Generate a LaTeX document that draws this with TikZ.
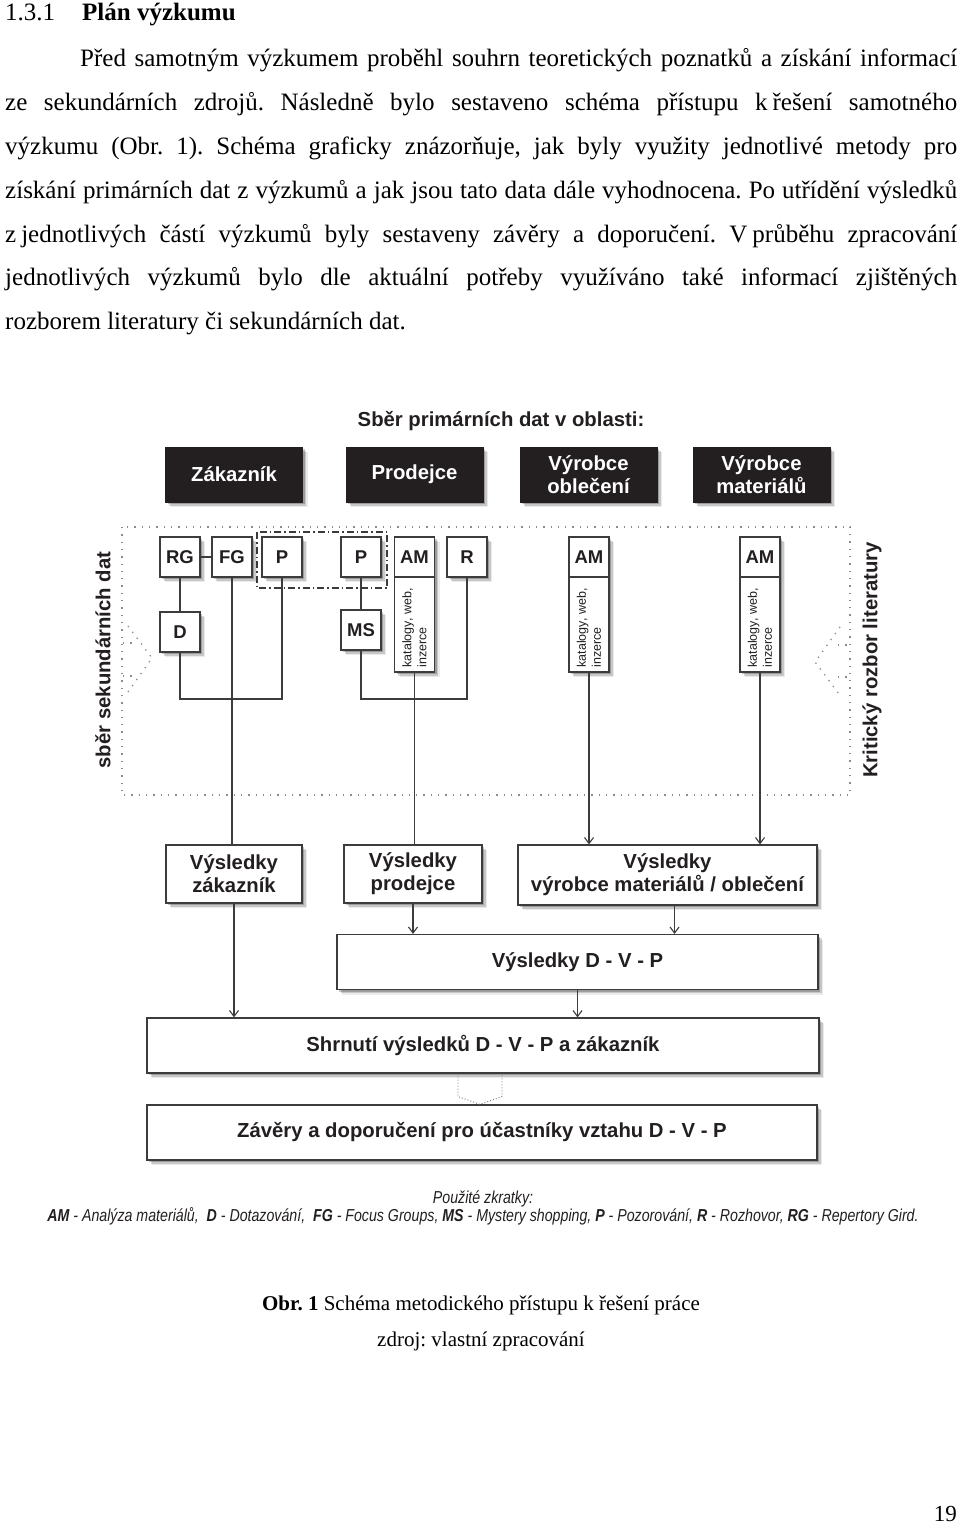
\documentclass[tikz,border=0pt]{standalone}
\usepackage{fontspec}
\setmainfont{Liberation Serif}
\newfontfamily\dsf{Liberation Sans}
\newfontfamily\nsf[FakeStretch=0.82]{Liberation Sans}
\usetikzlibrary{shadows,arrows.meta,calc}
\definecolor{ink}{HTML}{231F20}
\definecolor{edge}{HTML}{3C3C3C}
\tikzset{
  softshadow/.style={
    drop shadow={shadow xshift=5pt,shadow yshift=-5pt,opacity=0.08,fill=black},
    drop shadow={shadow xshift=3.5pt,shadow yshift=-3.5pt,opacity=0.15,fill=black},
    drop shadow={shadow xshift=2pt,shadow yshift=-2pt,opacity=0.22,fill=black}},
  darkbox/.style={softshadow, fill=ink, draw=ink, text=white, minimum width=137pt,
    minimum height=55pt, inner sep=0pt, align=center,
    font=\dsf\bfseries\fontsize{20.3}{23}\selectfont},
  resbox/.style={softshadow, fill=white, draw=edge, line width=1.2pt, inner sep=0pt,
    align=center, text=ink, font=\dsf\bfseries\fontsize{20.3}{23}\selectfont},
  sbase/.style={fill=white, draw=edge, line width=1.2pt, inner sep=0pt,
    minimum width=40pt, minimum height=40pt, text=ink,
    font=\dsf\bfseries\fontsize{18.5}{21}\selectfont},
  smallbox/.style={sbase, softshadow},
  vtext/.style={rotate=90, anchor=west, align=left, inner sep=0pt, text=ink,
    font=\dsf\fontsize{12.5}{15}\selectfont},
  sidelab/.style={rotate=90, inner sep=0pt, text=ink,
    font=\dsf\bfseries\fontsize{20.3}{23}\selectfont},
  ln/.style={draw=edge, line width=1.1pt},
  arr/.style={ln, -{Straight Barb[length=6pt,width=9pt]}},
  dotln/.style={draw=black!45, line width=1.3pt, dash pattern=on 1.3pt off 6pt},
  fineline/.style={draw=black!55, line width=0.9pt, dash pattern=on 1pt off 2pt},
  dashdot/.style={draw=edge, line width=1.1pt, dash pattern=on 7pt off 3pt on 1.5pt off 3pt},
  body/.style={font=\fontsize{25}{30}\selectfont, inner sep=0pt, anchor=base west},
  legend/.style={inner sep=0pt, text=ink, font=\nsf\itshape\fontsize{17.3}{19}\selectfont},
}
\begin{document}
\frenchspacing
\begin{tikzpicture}[x=1pt,y=-1pt]
\fill[white] (0,0) rectangle (960,1525);
\useasboundingbox (0,0) rectangle (960,1525);

% ---------- heading and paragraph ----------
\node[body] (h1) at (5,21) {1.3.1};
\node[body, font=\fontsize{25}{30}\selectfont\bfseries] (h2) at (82,21) {Plán výzkumu};

\node[body] (l1) at (80,67) {\makebox[877pt][s]{Před samotným výzkumem proběhl souhrn teoretických poznatků a získání informací}};
\node[body] (l2) at (5,111) {\makebox[952pt][s]{ze sekundárních zdrojů. Následně bylo sestaveno schéma přístupu k\hspace{0.2em}řešení samotného}};
\node[body] (l3) at (5,155) {\makebox[952pt][s]{výzkumu (Obr. 1). Schéma graficky znázorňuje, jak byly využity jednotlivé metody pro}};
\node[body] (l4) at (5,198) {\makebox[952pt][s]{získání primárních dat z výzkumů a jak jsou tato data dále vyhodnocena. Po utřídění výsledků}};
\node[body] (l5) at (5,242) {\makebox[952pt][s]{z\hspace{0.2em}jednotlivých částí výzkumů byly sestaveny závěry a doporučení. V\hspace{0.2em}průběhu zpracování}};
\node[body] (l6) at (5,285) {\makebox[952pt][s]{jednotlivých výzkumů bylo dle aktuální potřeby využíváno také informací zjištěných}};
\node[body] (l7) at (5,329) {rozborem literatury či sekundárních dat.};

% ---------- diagram: top ----------
\node[inner sep=0pt, text=ink, font=\dsf\bfseries\fontsize{20.3}{23}\selectfont] (title) at (501,421) {Sběr primárních dat v oblasti:};

\node[darkbox] (zak) at (234,474.5) {Zákazník};
\node[darkbox] (pro) at (414.5,474.5) {Prodejce};
\node[darkbox] (vob) at (588.5,474.5) {Výrobce\\oblečení};
\node[darkbox] (vma) at (761.5,474.5) {Výrobce\\materiálů};

% dotted frame with chevrons
\draw[dotln] (122,527) rectangle (850,795);
\draw[dotln] (128,626) -- (152,658) -- (128,692);
\draw[dotln] (123,643) -- (134,643);
\draw[dotln] (123,676) -- (134,676);
\draw[dotln] (840,627) -- (815,662) -- (839,694);
\draw[dotln] (838,645) -- (849,645);
\draw[dotln] (838,677) -- (849,677);

\node[sidelab] (sek) at (103,660) {sběr sekundárních dat};
\node[sidelab] (lit) at (872,660) {Kritický rozbor literatury};

% dash-dot group
\draw[dashdot] (257,532) rectangle (387,588);

% small boxes
\node[smallbox] (rg) at (180,557) {RG};
\node[smallbox] (fg) at (232,557) {FG};
\node[smallbox] (p1) at (282,557) {P};
\node[smallbox] (p2) at (361,557) {P};
\node[smallbox] (r) at (467,557) {R};
\node[smallbox] (d) at (180,632) {D};
\node[smallbox] (ms) at (361,630) {MS};

\node[sbase, softshadow, minimum height=135pt] (am1b) at (414.5,604.5) {};
\node[sbase] (am1) at (414.5,557) {AM};
\node[vtext] (am1t) at ($(am1b.south)+(0,-5)$) {katalogy, web,\\inzerce};

\node[sbase, softshadow, minimum height=135pt] (am2b) at (589,604.5) {};
\node[sbase] (am2) at (589,557) {AM};
\node[vtext] (am2t) at ($(am2b.south)+(0,-5)$) {katalogy, web,\\inzerce};

\node[sbase, softshadow, minimum height=135pt] (am3b) at (760,604.5) {};
\node[sbase] (am3) at (760,557) {AM};
\node[vtext] (am3t) at ($(am3b.south)+(0,-5)$) {katalogy, web,\\inzerce};

% ---------- results ----------
\node[resbox, minimum width=136pt, minimum height=58pt] (rz) at (234,874) {Výsledky\\zákazník};
\node[resbox, minimum width=138pt, minimum height=58pt] (rp) at (413,874) {Výsledky\\prodejce};
\node[resbox, minimum width=299pt, minimum height=60pt] (rv) at (667.5,875) {Výsledky\\výrobce materiálů / oblečení};
\node[resbox, minimum width=481pt, minimum height=55pt] (dvp) at (577.5,962) {Výsledky D - V - P};
\node[resbox, minimum width=672pt, minimum height=55pt] (shr) at (483,1045.5) {Shrnutí výsledků D - V - P a zákazník};
\node[resbox, minimum width=670pt, minimum height=55pt] (zav) at (482,1132.5) {Závěry a doporučení pro účastníky vztahu D - V - P};

% ---------- connectors ----------
\coordinate (yb) at (0,699);
\draw[ln] (rg.east) -- (fg.west);
\draw[ln] (rg.south) -- (d.north);
\draw[ln] (d.south) |- (p1.south |- yb) -- (p1.south);
\draw[ln] (p2.south) -- (ms.north);
\draw[ln] (ms.south) |- (r.south |- yb) -- (r.south);
\draw[ln] (fg.south) -- (fg.south |- rz.north);
\draw[ln] (am1b.south) -- (am1b.south |- rp.north);
\draw[arr] (am2b.south) -- (am2b.south |- rv.north);
\draw[arr] (am3b.south) -- (am3b.south |- rv.north);
\draw[arr] (rz.south) -- (rz.south |- shr.north);
\draw[arr] (rp.south) -- (rp.south |- dvp.north);
\coordinate (rvo) at ($(rv.south)+(7,0)$);
\draw[arr] (rvo) -- (rvo |- dvp.north);
\draw[arr] (dvp.south) -- (dvp.south |- shr.north);
\coordinate (tip) at ($(zav.north)+(-2,0)$);
\draw[fineline] ($(shr.south)+(-25,0)$) -- ++(0,23) -- (tip) -- ($(shr.south)+(19,23)$) -- ($(shr.south)+(19,0)$);

% ---------- legend ----------
\node[legend] (leg1) at (483,1199) {Použité zkratky:};
\node[legend] (leg2) at (483,1216) {\textbf{AM} - Analýza materiálů,\ \ \textbf{D} - Dotazování,\ \ \textbf{FG} - Focus Groups, \textbf{MS} - Mystery shopping, \textbf{P} - Pozorování, \textbf{R} - Rozhovor, \textbf{RG} - Repertory Gird.};

% ---------- caption ----------
\node[inner sep=0pt, font=\fontsize{21}{25}\selectfont, anchor=base] (cap1) at (481,1310) {\textbf{Obr. 1} Schéma metodického přístupu k řešení práce};
\node[inner sep=0pt, font=\fontsize{21}{25}\selectfont, anchor=base] (cap2) at (481,1346) {zdroj: vlastní zpracování};
\node[inner sep=0pt, font=\fontsize{23}{27}\selectfont, anchor=base east] (pg) at (957,1521) {19};
\end{tikzpicture}
\end{document}
